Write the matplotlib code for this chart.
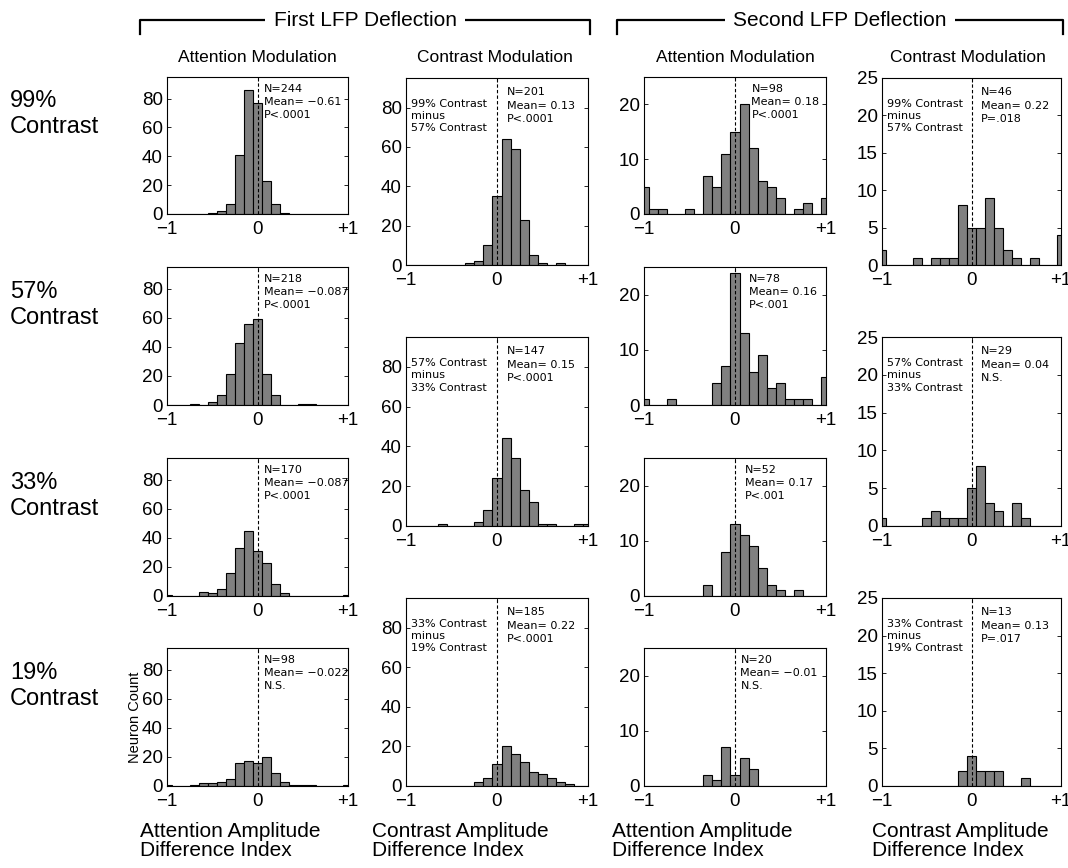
import matplotlib
matplotlib.use("Agg")
import matplotlib.pyplot as plt
from matplotlib.lines import Line2D

plt.rcParams["font.family"] = ["Liberation Sans", "DejaVu Sans"]

# bin centres (index 10 = 0)
bin_centers = [-1.0, -0.9, -0.8, -0.7, -0.6, -0.5, -0.4, -0.3, -0.2, -0.1, 0.0,
               0.1, 0.2, 0.3, 0.4, 0.5, 0.6, 0.7, 0.8, 0.9, 1.0]

# first LFP deflection, attention modulation
att1_99 = [0, 0, 0, 0, 0, 1, 2, 7, 41, 86, 77, 23, 7, 1, 0, 0, 0, 0, 0, 0, 0]
att1_57 = [0, 0, 0, 1, 0, 2, 7, 21, 43, 56, 59, 21, 7, 0, 0, 1, 1, 0, 0, 0, 0]
att1_33 = [1, 0, 0, 0, 3, 2, 5, 16, 33, 45, 31, 23, 8, 2, 0, 0, 0, 0, 0, 0, 1]
att1_19 = [1, 0, 0, 1, 2, 2, 3, 5, 16, 17, 16, 20, 9, 3, 1, 1, 1, 0, 0, 0, 1]

# first LFP deflection, contrast modulation
con1_99_57 = [0, 0, 0, 0, 0, 0, 0, 1, 2, 10, 35, 64, 59, 23, 5, 1, 0, 1, 0, 0, 0]
con1_57_33 = [0, 0, 0, 0, 1, 0, 0, 0, 2, 8, 24, 44, 34, 18, 12, 1, 1, 0, 0, 1, 1]
con1_33_19 = [0, 0, 0, 0, 0, 0, 0, 0, 2, 4, 11, 20, 16, 12, 7, 6, 4, 2, 1, 0, 0]

# second LFP deflection, attention modulation
att2_99 = [5, 1, 1, 0, 0, 1, 0, 7, 5, 11, 15, 20, 12, 6, 5, 3, 0, 1, 2, 0, 3]
att2_57 = [1, 0, 0, 1, 0, 0, 0, 0, 4, 7, 24, 13, 6, 9, 3, 4, 1, 1, 1, 0, 5]
att2_33 = [0, 0, 0, 0, 0, 0, 0, 2, 0, 8, 13, 11, 9, 5, 2, 1, 0, 1, 0, 0, 0]
att2_19 = [0, 0, 0, 0, 0, 0, 0, 2, 1, 7, 2, 5, 3, 0, 0, 0, 0, 0, 0, 0, 0]

# second LFP deflection, contrast modulation
con2_99_57 = [2, 0, 0, 0, 1, 0, 1, 1, 1, 8, 5, 5, 9, 5, 2, 1, 0, 1, 0, 0, 4]
con2_57_33 = [1, 0, 0, 0, 0, 1, 2, 1, 1, 1, 5, 8, 3, 2, 0, 3, 1, 0, 0, 0, 0]
con2_33_19 = [0, 0, 0, 0, 0, 0, 0, 0, 0, 2, 4, 2, 2, 2, 0, 0, 1, 0, 0, 0, 0]

stats_att1 = ["N=244\nMean= \u22120.61\nP<.0001", "N=218\nMean= \u22120.087\nP<.0001",
              "N=170\nMean= \u22120.087\nP<.0001", "N=98\nMean= \u22120.022\nN.S."]
stats_con1 = ["N=201\nMean= 0.13\nP<.0001", "N=147\nMean= 0.15\nP<.0001",
              "N=185\nMean= 0.22\nP<.0001"]
stats_att2 = ["N=98\nMean= 0.18\nP<.0001", "N=78\nMean= 0.16\nP<.001",
              "N=52\nMean= 0.17\nP<.001", "N=20\nMean= \u22120.01\nN.S."]
stats_con2 = ["N=46\nMean= 0.22\nP=.018", "N=29\nMean= 0.04\nN.S.",
              "N=13\nMean= 0.13\nP=.017"]
pair_labels = ["99% Contrast\nminus\n57% Contrast", "57% Contrast\nminus\n33% Contrast",
               "33% Contrast\nminus\n19% Contrast"]
row_labels = ["99%\nContrast", "57%\nContrast", "33%\nContrast", "19%\nContrast"]

W, H = 1068, 868
fig = plt.figure(figsize=(W / 100, H / 100), dpi=100)


def add_axes_px(left, top, right, bottom):
    return fig.add_axes([left / W, 1 - bottom / H, (right - left) / W, (bottom - top) / H])


def draw_hist(ax, counts, ymax, yticks, stats, stat_x, pair=None):
    ax.bar(bin_centers, counts, width=0.1, color="#808080", edgecolor="black",
           linewidth=0.8, zorder=2)
    ax.axvline(0, color="black", linestyle=(0, (3, 2)), linewidth=0.8, zorder=3)
    ax.set_xlim(-1, 1)
    ax.set_ylim(0, ymax)
    ax.set_xticks([-1, 0, 1])
    ax.set_xticklabels(["\u22121", "0", "+1"])
    ax.set_yticks(yticks)
    ax.tick_params(direction="in", top=True, right=True, length=3, width=0.6,
                   labelsize=13.5)
    ax.tick_params(axis="x", pad=5)
    ax.tick_params(axis="y", pad=3)
    for sp in ax.spines.values():
        sp.set_linewidth(0.8)
    ax.text(stat_x, 0.95, stats, transform=ax.transAxes, ha="left", va="top",
            fontsize=8, family="DejaVu Sans", linespacing=1.4)
    if pair:
        ax.text(0.03, 0.89, pair, transform=ax.transAxes, ha="left", va="top",
                fontsize=8, family="DejaVu Sans", linespacing=1.3)


small_tops = [77, 267, 458, 648]
small_bots = [214, 405, 596, 786]
tall_tops = [78, 337, 598]
tall_bots = [265, 526, 786]

att1 = [att1_99, att1_57, att1_33, att1_19]
att2 = [att2_99, att2_57, att2_33, att2_19]
con1 = [con1_99_57, con1_57_33, con1_33_19]
con2 = [con2_99_57, con2_57_33, con2_33_19]

att2_x = [0.59, 0.575, 0.555, 0.53]

for i in range(4):
    ax = add_axes_px(167, small_tops[i], 348, small_bots[i])
    draw_hist(ax, att1[i], 95, [0, 20, 40, 60, 80], stats_att1[i], 0.535)
    if i == 3:
        ax.set_ylabel("Neuron Count", fontsize=10.5, labelpad=0)
    ax = add_axes_px(644, small_tops[i], 826, small_bots[i])
    draw_hist(ax, att2[i], 25, [0, 10, 20], stats_att2[i], att2_x[i])

for i in range(3):
    ax = add_axes_px(406, tall_tops[i], 588, tall_bots[i])
    draw_hist(ax, con1[i], 95, [0, 20, 40, 60, 80], stats_con1[i], 0.555, pair_labels[i])
    ax = add_axes_px(882, tall_tops[i], 1061, tall_bots[i])
    draw_hist(ax, con2[i], 25, [0, 5, 10, 15, 20, 25], stats_con2[i], 0.555, pair_labels[i])

# column titles
for xc, title in [(257, "Attention Modulation"), (495, "Contrast Modulation"),
                  (735, "Attention Modulation"), (968, "Contrast Modulation")]:
    fig.text(xc / W, 1 - 58 / H, title, ha="center", va="center", fontsize=12.5)

# bracketed headers
for x0, x1, label in [(140, 590, "First LFP Deflection"), (617, 1063, "Second LFP Deflection")]:
    y = 1 - 20 / H
    yb = 1 - 34 / H
    fig.add_artist(Line2D([x0 / W, x0 / W, x1 / W, x1 / W], [yb, y, y, yb],
                          color="black", linewidth=1.6))
    fig.text((x0 + x1) / 2 / W, y, label, ha="center", va="center", fontsize=15,
             bbox=dict(facecolor="white", edgecolor="none", pad=6))

# row labels
for yc, lab in zip([114, 305, 496, 686], row_labels):
    fig.text(10 / W, 1 - yc / H, lab, ha="left", va="center", fontsize=17, linespacing=1.2)

# x labels
for x0, lab in [(140, "Attention Amplitude\nDifference Index"),
                (372, "Contrast Amplitude\nDifference Index"),
                (612, "Attention Amplitude\nDifference Index"),
                (872, "Contrast Amplitude\nDifference Index")]:
    fig.text(x0 / W, 1 - 822 / H, lab, ha="left", va="top", fontsize=15, linespacing=1.0)

fig.savefig("out.png", dpi=100)
